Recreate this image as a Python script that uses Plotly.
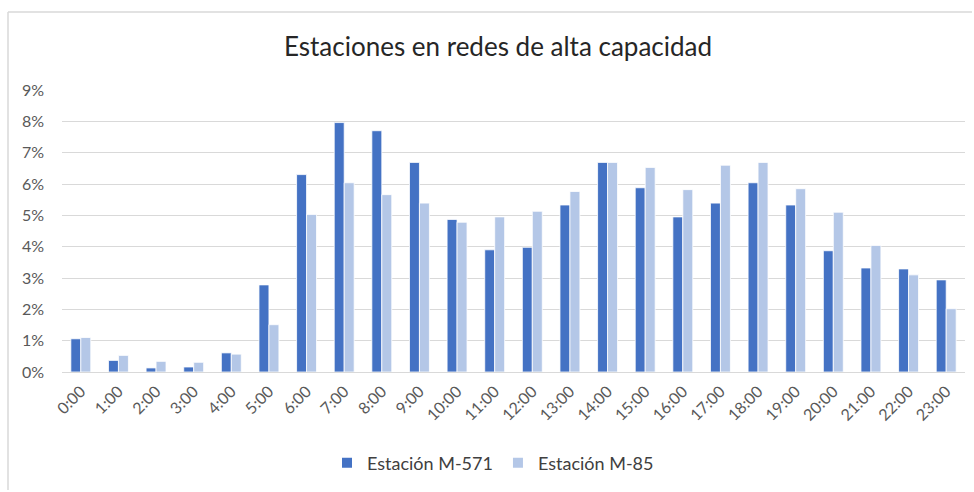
import plotly.graph_objects as go

# Hourly share of traffic (%) at two high-capacity network stations
horas = [f"{h}:00" for h in range(24)]
estacion_m571 = [1.06, 0.37, 0.13, 0.16, 0.61, 2.78, 6.30, 7.96, 7.70, 6.69,
                 4.87, 3.90, 3.98, 5.33, 6.69, 5.88, 4.95, 5.39, 6.04, 5.33,
                 3.87, 3.32, 3.29, 2.94]
estacion_m85 = [1.10, 0.53, 0.34, 0.31, 0.57, 1.51, 5.03, 6.04, 5.66, 5.39,
                4.78, 4.95, 5.13, 5.76, 6.69, 6.53, 5.82, 6.60, 6.69, 5.85,
                5.10, 4.04, 3.10, 2.02]
y_ticks = list(range(0, 10))
y_tick_labels = [f"{v}%" for v in y_ticks]

FONT = "Lato"
GRID = "#D9D9D9"
TEXT = "#595959"

W, H = 974, 492
ML, MR, MT, MB = 62, 9, 90, 120

fig = go.Figure()
fig.add_trace(go.Bar(name="Estación M-571", x=horas, y=estacion_m571,
                     marker=dict(color="#4472C4", line=dict(color="white", width=0.8))))
fig.add_trace(go.Bar(name="Estación M-85", x=horas, y=estacion_m85,
                     marker=dict(color="#B4C7E7", line=dict(color="white", width=0.8))))

# Chart-area frame (left and top edges)
pw, ph = W - ML - MR, H - MT - MB
x_left = (8 - ML) / pw
y_top = 1 + (MT - 12) / ph
y_bot = -(H - 2 - (MT + ph)) / ph
x_right = 1 + (W - 2 - (W - MR)) / pw
fig.add_shape(type="line", xref="paper", yref="paper", x0=x_left, x1=x_left,
              y0=y_bot, y1=y_top, line=dict(color=GRID, width=1.5))
fig.add_shape(type="line", xref="paper", yref="paper", x0=x_left, x1=x_right,
              y0=y_top, y1=y_top, line=dict(color=GRID, width=1.5))

fig.update_layout(
    width=W, height=H,
    margin=dict(l=ML, r=MR, t=MT, b=MB),
    paper_bgcolor="white", plot_bgcolor="white",
    barmode="group", bargap=0.47, bargroupgap=0.0,
    font=dict(family=FONT, color=TEXT, size=14),
    title=dict(text="Estaciones en redes de alta capacidad",
               x=498 / W, xref="container", xanchor="center", y=1 - 47 / H, yanchor="middle",
               font=dict(family=FONT, size=26, color="#262626")),
    legend=dict(orientation="h", x=(493 - ML) / pw, xanchor="center",
                y=-(463 - (MT + ph)) / ph,
                yanchor="middle", font=dict(family=FONT, size=18, color="#404040"),
                itemsizing="constant", traceorder="normal", itemwidth=30),
    xaxis=dict(tickangle=-45, showgrid=False, showline=False, ticks="",
               ticklabelstandoff=6,
               tickfont=dict(family=FONT, size=16, color=TEXT)),
    yaxis=dict(range=[0, 9], tickvals=y_ticks, ticktext=y_tick_labels, showgrid=True,
               gridcolor=GRID, gridwidth=1.2, zeroline=True, zerolinecolor=GRID,
               zerolinewidth=1.2, showline=False, ticks="", ticklabelstandoff=17,
               tickfont=dict(family=FONT, size=16, color=TEXT)),
)

fig.write_html("out.html")
